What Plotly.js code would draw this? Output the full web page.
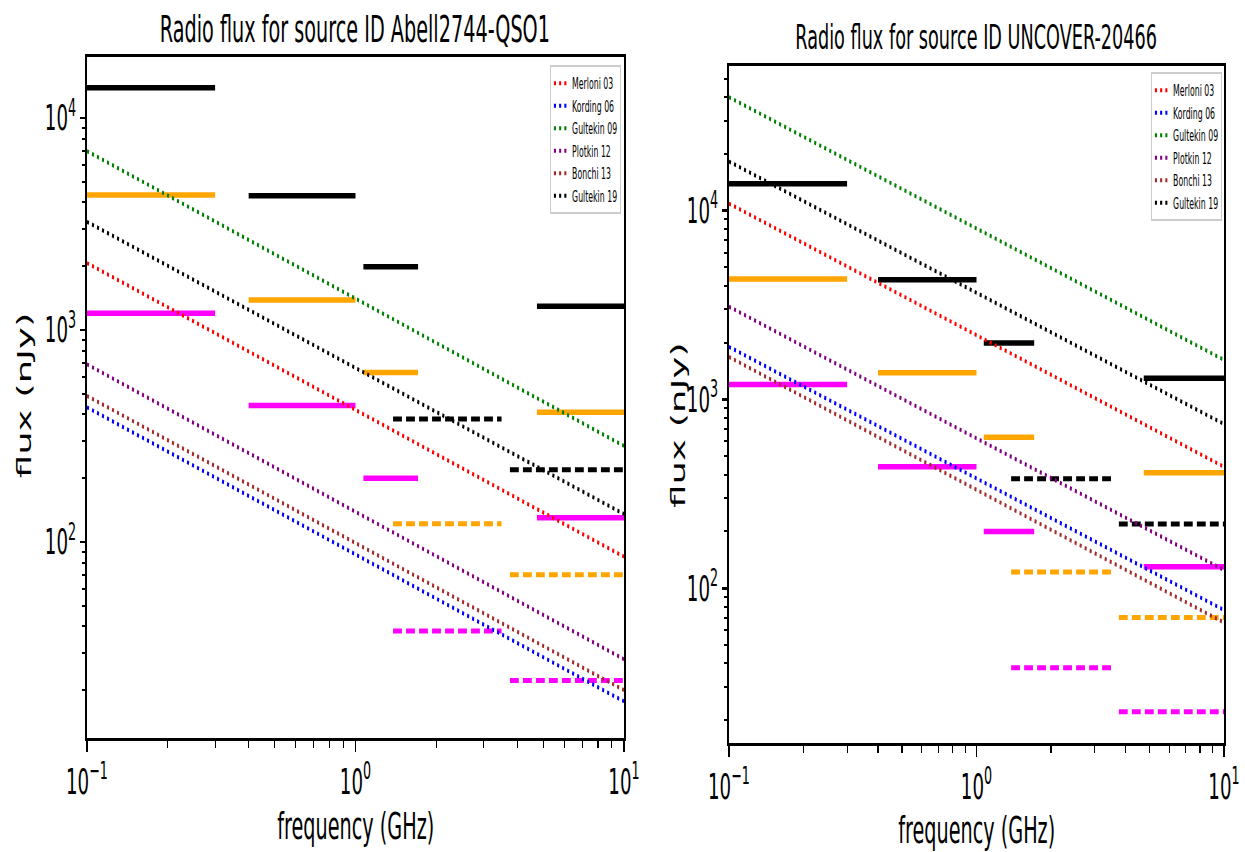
<!DOCTYPE html>
<html>
<head>
<meta charset="utf-8">
<script src="https://cdn.plot.ly/plotly-3.0.1.min.js"></script>
<style>
  html, body { margin: 0; padding: 0; background: #ffffff; overflow: hidden; }
  #wrap { width: 1245px; height: 852px; overflow: hidden; }
  #chart { width: 2394px; height: 852px; transform: scaleX(0.52005); transform-origin: 0 0; }
</style>
</head>
<body>
<div id="wrap"><div id="chart"></div></div>
<script>
// Survey bands (GHz): start / end of each band
const bandStart = [0.1, 0.4, 1.07, 1.38, 4.74, 3.76];
const bandEnd   = [0.3, 1.0, 1.71, 3.5, 10, 10];
// Flux limits (nJy) for each band at three depths
const limitHigh = [13900, 4300, 1990, 380, 1294, 219];
const limitMid  = [4340, 1385, 630, 122, 409, 70];
const limitLow  = [1200, 440, 200, 38, 130, 22.2];

// Predicted radio flux (nJy) at 0.1 GHz and 10 GHz for each relation
const freqEnds = [0.1, 10];
const relationNames = ['Merloni 03', 'Kording 06', 'Gultekin 09', 'Plotkin 12', 'Bonchi 13', 'Gultekin 19'];
const qso1Flux = [
  [2070, 85.3],
  [432, 17.7],
  [6980, 284],
  [689, 28.0],
  [489, 20.0],
  [3240, 135.5]
];
const uncoverFlux = [
  [10900, 440],
  [1900, 76.7],
  [39900, 1620],
  [3100, 125],
  [1680, 65.8],
  [18200, 741]
];
const sourceTitles = ['Radio flux for source ID Abell2744-QSO1', 'Radio flux for source ID UNCOVER-20466'];

// ---- styling ----
const relationColors = ['#ff0000', '#0000ff', '#008000', '#800080', '#a52a2a', '#000000'];
const solidBands = [0, 1, 2, 4];
const dashedBands = [3, 5];
const W = 2394, H = 852;
const FONT = 'DejaVu Sans, Verdana, sans-serif';

function bandTrace(indices, values, color, dashed, xa, ya) {
  const xs = [], ys = [];
  indices.forEach(i => {
    xs.push(bandStart[i], bandEnd[i], null);
    ys.push(values[i], values[i], null);
  });
  return {
    x: xs, y: ys, mode: 'lines', xaxis: xa, yaxis: ya, showlegend: false, hoverinfo: 'skip',
    line: { color: color, width: dashed ? 5 : 5.5, dash: dashed ? '17px,8px' : 'solid' }
  };
}

const traces = [];
[['x', 'y', 'legend'], ['x2', 'y2', 'legend2']].forEach(([xa, ya, lg], k) => {
  [[limitHigh, '#000000'], [limitMid, '#ffa500'], [limitLow, '#ff00ff']].forEach(([vals, col]) => {
    traces.push(bandTrace(solidBands, vals, col, false, xa, ya));
    traces.push(bandTrace(dashedBands, vals, col, true, xa, ya));
  });
  const flux = k === 0 ? qso1Flux : uncoverFlux;
  relationNames.forEach((name, i) => {
    traces.push({
      x: freqEnds, y: flux[i], mode: 'lines', name: name, xaxis: xa, yaxis: ya, legend: lg,
      line: { color: relationColors[i], width: 4, dash: '4px,6px' }
    });
  });
});

function axisStyle(extra) {
  return Object.assign({
    type: 'log', showline: true, linecolor: '#000', linewidth: 3, mirror: true,
    ticks: 'outside', ticklen: 11, tickwidth: 2.5, tickcolor: '#000',
    showgrid: false, zeroline: false,
    tickfont: { family: FONT, size: 35, color: '#000' },
    minor: { dtick: 'D1', ticks: 'outside', ticklen: 7, tickwidth: 2, tickcolor: '#000', showgrid: false }
  }, extra);
}
const xTicks = { tickvals: [0.1, 1, 10], ticktext: ['10<sup>−1</sup>', '10<sup>0</sup>', '10<sup>1</sup>'] };
const yTicks = { tickvals: [10, 100, 1000, 10000], ticktext: ['10<sup>1</sup>', '10<sup>2</sup>', '10<sup>3</sup>', '10<sup>4</sup>'] };

const legendStyle = {
  xanchor: 'right', yanchor: 'top', bgcolor: 'rgba(255,255,255,0.8)',
  bordercolor: '#cccccc', borderwidth: 2, font: { family: FONT, size: 15, color: '#000' },
  itemwidth: 30, tracegroupgap: 0
};

const ann = (text, x, y, size, angle) => ({
  text: text, xref: 'paper', yref: 'paper', x: x / 1245, y: 1 - y / H,
  xanchor: 'center', yanchor: 'middle', showarrow: false, textangle: angle || 0,
  font: { family: FONT, size: size, color: '#000' }
});

const layout = {
  width: W, height: H, margin: { l: 0, r: 0, t: 0, b: 0 },
  paper_bgcolor: '#ffffff', plot_bgcolor: '#ffffff', showlegend: true,
  xaxis: axisStyle(Object.assign({ domain: [87 / 1245, 624 / 1245], range: [-1, 1], anchor: 'y' }, xTicks)),
  yaxis: axisStyle(Object.assign({ domain: [1 - 738 / H, 1 - 57 / H], range: [1.0755, 4.288], anchor: 'x' }, yTicks)),
  xaxis2: axisStyle(Object.assign({ domain: [729 / 1245, 1224 / 1245], range: [-1, 1], anchor: 'y2' }, xTicks)),
  yaxis2: axisStyle(Object.assign({ domain: [1 - 743 / H, 1 - 66 / H], range: [1.1806, 4.766], anchor: 'x2' }, yTicks)),
  legend: Object.assign({ x: 621 / 1245, y: 1 - 65 / H }, legendStyle),
  legend2: Object.assign({ x: 1222 / 1245, y: 1 - 72 / H }, legendStyle),
  annotations: [
    ann(sourceTitles[0], 355, 30, 37),
    ann(sourceTitles[1], 976, 37, 34),
    ann('frequency (GHz)', 355.5, 826, 37),
    ann('frequency (GHz)', 976.5, 830, 37),
    ann('flux (nJy)', 24, 395, 37, -90),
    ann('flux (nJy)', 678, 425, 37, -90)
  ]
};

Plotly.newPlot('chart', traces, layout, { staticPlot: true, displayModeBar: false });
</script>
</body>
</html>
